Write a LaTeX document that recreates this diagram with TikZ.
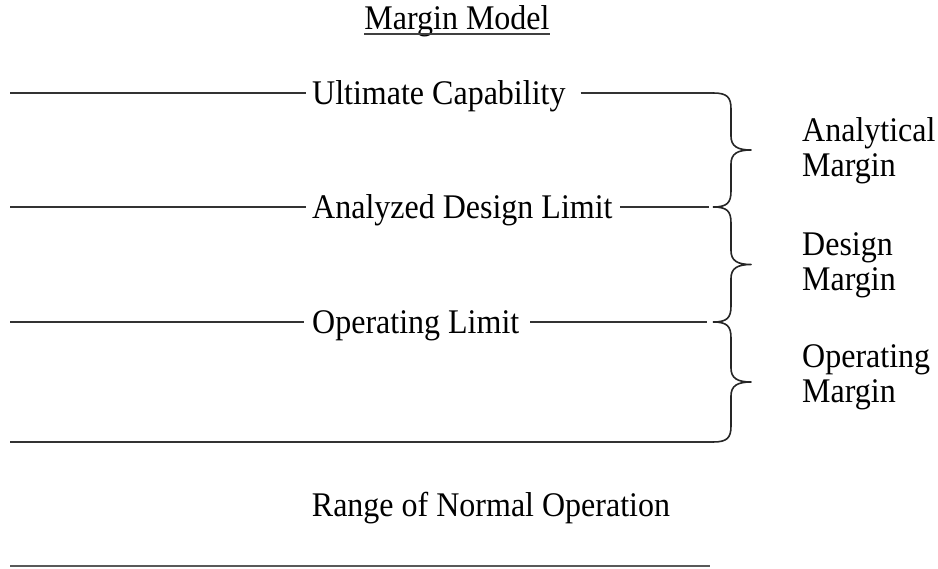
\documentclass[tikz,border=0pt]{standalone}
\usepackage{fontspec}
\usepackage{graphicx}
\setmainfont{Liberation Serif}
% slightly tall type, as set in the drawing
\newcommand{\tall}[1]{\scalebox{1}[1.08]{#1}}
\begin{document}
\begin{tikzpicture}[x=1pt,y=-1pt,
  every node/.style={inner sep=0pt,font=\fontsize{32}{35}\selectfont},
  level/.style={anchor=base west},
  rule/.style={line width=1.6pt,draw=black!80},
  bracepath/.style={line width=1.6pt,draw=black!85,line join=round}]
\useasboundingbox (0,0) rectangle (938,569);

% title
\node[anchor=base] (title) at (457,30) {\tall{Margin Model}};
\draw[line width=1.5pt,black!75] ([yshift=-4pt]title.base west) -- ([yshift=-4pt]title.base east);

% level labels on the horizontal rules
\node[level] (ult) at (312,105) {\tall{Ultimate Capability}};
\node[level] (adl) at (312,219) {\tall{Analyzed Design Limit}};
\node[level] (opl) at (312,334) {\tall{Operating Limit}};
\node[anchor=base] (rno) at (491,516) {\tall{Range of Normal Operation}};

% rule end points
\coordinate (a1) at (10,93);   \coordinate (b1) at (713,93);
\coordinate (a2) at (10,207);  \coordinate (b2) at (713,207);
\coordinate (a3) at (10,322);  \coordinate (b3) at (713,322);
\coordinate (a4) at (10,442);  \coordinate (b4) at (713,442);
\coordinate (a5) at (10,566);  \coordinate (b5) at (710,566);

% horizontal rules
\draw[rule] (a1) -- ([xshift=-6pt]a1 -| ult.west);
\draw[rule] ([xshift=15pt]a1 -| ult.east) -- (b1);
\draw[rule] (a2) -- ([xshift=-6pt]a2 -| adl.west);
\draw[rule] ([xshift=7pt]a2 -| adl.east) -- ([xshift=-4pt]b2);
\draw[rule] (a3) -- ([xshift=-8pt]a3 -| opl.west);
\draw[rule] ([xshift=11pt]a3 -| opl.east) -- ([xshift=-6pt]b3);
\draw[rule] (a4) -- (b4);
\draw[rule,draw=black!65] (a5) -- (b5);

% curly braces between consecutive levels
\foreach \ya/\yb/\nm in {93/207/one,207/322/two,322/442/three}{
  \pgfmathsetmacro{\ym}{(\ya+\yb)/2}
  \draw[bracepath] (713,\ya) .. controls (727,\ya) and (731,\ya+4) .. (731,\ya+16)
    -- (731,\ym-14) .. controls (731,\ym-4) and (737,\ym) .. (751,\ym)
    coordinate (tip\nm)
    .. controls (737,\ym) and (731,\ym+4) .. (731,\ym+14)
    -- (731,\yb-16) .. controls (731,\yb-4) and (727,\yb) .. (713,\yb);
}

% margin labels
\node[anchor=west,align=left] (am) at (802,151) {\tall{Analytical}\\\tall{Margin}};
\node[anchor=west,align=left] (dm) at (802,265) {\tall{Design}\\\tall{Margin}};
\node[anchor=west,align=left] (om) at (802,377) {\tall{Operating}\\\tall{Margin}};
\end{tikzpicture}
\end{document}
